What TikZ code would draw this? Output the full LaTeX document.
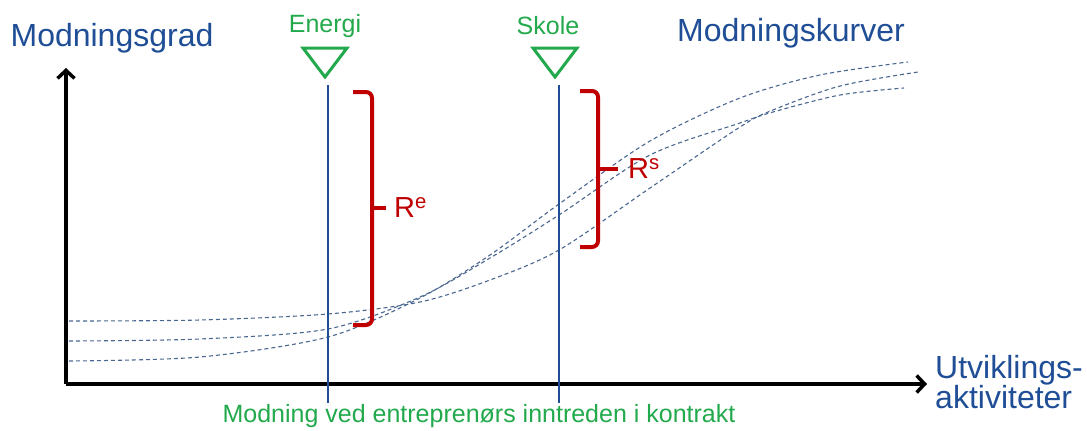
\documentclass[tikz,border=0pt]{standalone}
\usepackage{fontspec}
\setmainfont{Liberation Sans}
\usepackage{xcolor}
\usepackage{tikz}
\usetikzlibrary{arrows.meta,positioning}
\definecolor{navy}{HTML}{1F4E96}
\definecolor{leaf}{HTML}{22A94B}
\definecolor{crimson}{HTML}{C00000}
\definecolor{curvegray}{HTML}{4A6790}
\tikzset{
  x=1pt,y=-1pt,
  every node/.style={inner sep=0pt},
  axislabel/.style={font=\fontsize{32}{27}\selectfont,text=navy},
  marklabel/.style={font=\fontsize{25}{30}\selectfont,text=leaf},
  rlabel/.style={font=\fontsize{29}{34}\selectfont,text=crimson,inner xsep=4pt},
  axis/.style={-{Straight Barb[length=8pt,width=17pt]},line width=3.5pt,draw=black,line join=round},
  milestone/.style={line width=2.3pt,draw=navy},
  marker/.style={line width=3pt,draw=leaf,line join=miter},
  brace/.style={line width=4pt,draw=crimson,rounded corners=6pt},
  curve/.style={line width=1.1pt,draw=curvegray,dash pattern=on 4pt off 3pt}
}
\begin{document}
\begin{tikzpicture}
  \useasboundingbox (0,0) rectangle (1087,431);

  % axes
  \coordinate (origin) at (66,384);
  \coordinate (ytip) at (66,68);
  \coordinate (xtip) at (927,384);
  \draw[axis] (origin) -- (ytip);
  \draw[axis] (origin) -- (xtip);
  \node[axislabel] (ylab) at (112,38) {Modningsgrad};
  \node[axislabel,align=left,anchor=west] (xlab) at (935,382) {Utviklings-\\aktiviteter};
  \node[axislabel] (curvelab) at (791,33) {Modningskurver};

  % maturity curves
  \draw[curve] plot[smooth] coordinates {(69,321) (200,320) (328,314) (420,302) (490,280) (559,250) (650,188) (740,127) (773,110) (840,86) (918,72)};
  \draw[curve] plot[smooth] coordinates {(69,341) (200,339) (328,329) (420,297) (490,258) (559,215) (650,155) (740,123) (773,112) (840,95) (904,88)};
  \draw[curve] plot[smooth] coordinates {(69,361) (200,357) (328,337) (420,298) (490,255) (559,204) (650,141) (740,98) (820,75) (908,62)};

  % milestones
  \coordinate (etop) at (328,85);
  \coordinate (ebot) at (328,403);
  \coordinate (stop) at (559,85);
  \coordinate (sbot) at (559,403);
  \draw[milestone] (etop) -- (ebot);
  \draw[milestone] (stop) -- (sbot);
  \draw[marker] (303,48) -- (347,48) -- (325,77) -- cycle;
  \draw[marker] (533,48) -- (577,48) -- (555,77) -- cycle;
  \node[marklabel] (elab) at (325,26) {Energi};
  \node[marklabel] (slab) at (548,26) {Skole};
  \node[marklabel] (entry) at (479,416) {Modning ved entreprenørs inntreden i kontrakt};

  % ranges
  \node[rlabel,anchor=west] (re) at (390,208) {R\textsuperscript{e}};
  \node[rlabel,anchor=west] (rs) at (624,169) {R\textsuperscript{s}};
  \draw[brace] (353,92) -- (372,92) -- (372,325) -- (353,325);
  \draw[brace] (372,208) -- ([xshift=-4pt]re.west);
  \draw[brace] (580,91) -- (598,91) -- (598,247) -- (580,247);
  \draw[brace] (598,169) -- ([xshift=-6pt]rs.west);
\end{tikzpicture}
\end{document}
